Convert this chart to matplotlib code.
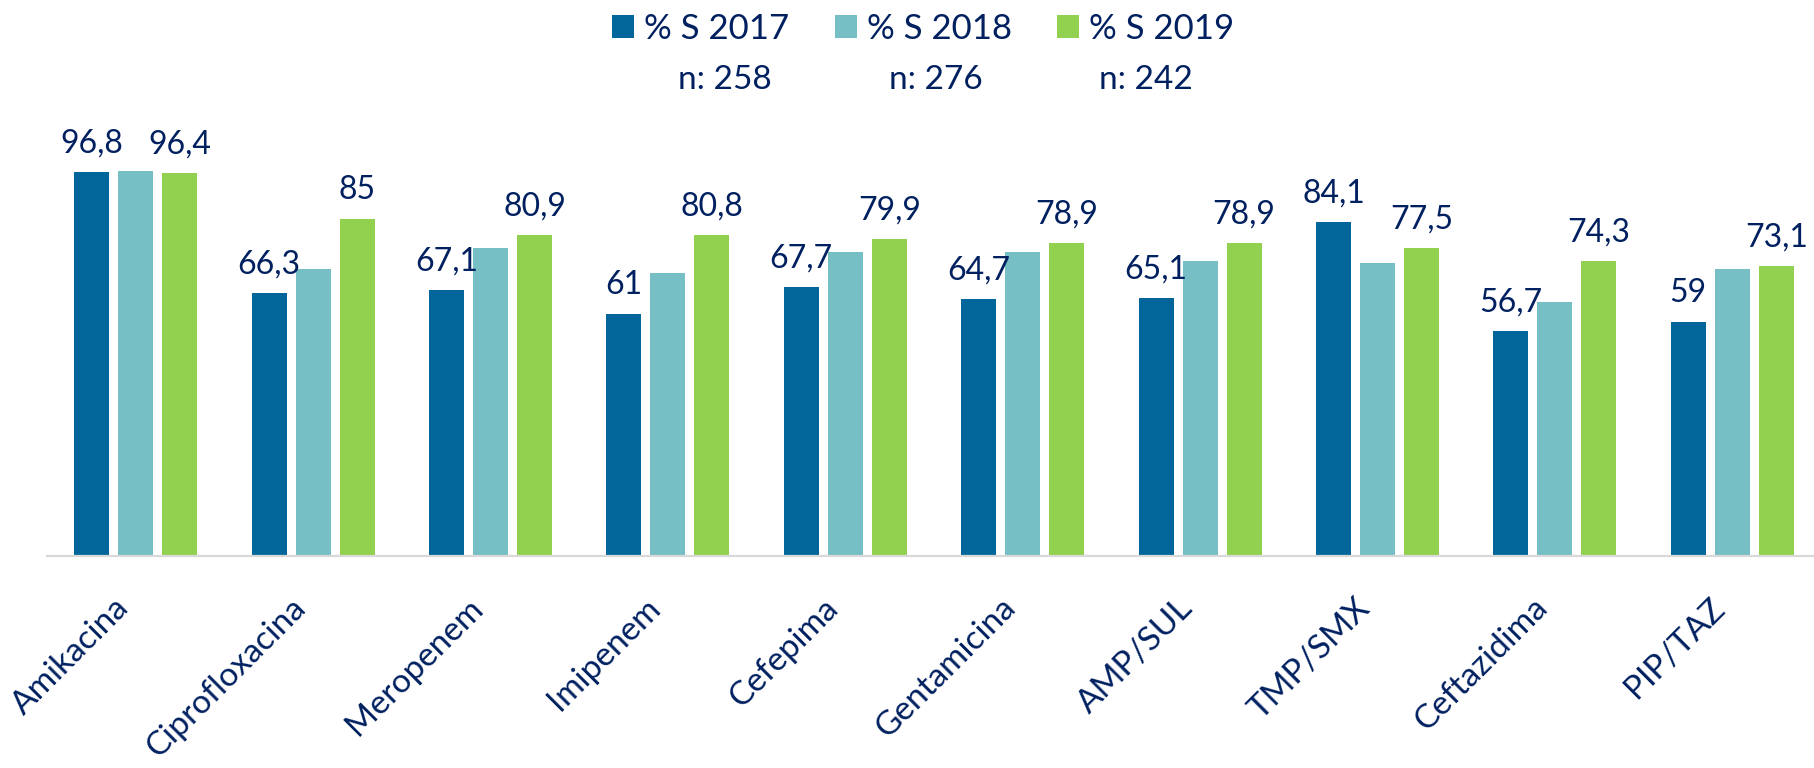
import numpy as np
import matplotlib.pyplot as plt
from matplotlib.transforms import ScaledTranslation

plt.rcParams['font.family'] = ['Lato', 'DejaVu Sans']

categorias = ['Amikacina', 'Ciprofloxacina', 'Meropenem', 'Imipenem', 'Cefepima',
              'Gentamicina', 'AMP/SUL', 'TMP/SMX', 'Ceftazidima', 'PIP/TAZ']
s2017 = [96.8, 66.3, 67.1, 61, 67.7, 64.7, 65.1, 84.1, 56.7, 59]
s2018 = [97.1, 72.3, 77.6, 71.3, 76.7, 76.5, 74.2, 73.8, 63.9, 72.3]
s2019 = [96.4, 85, 80.9, 80.8, 79.9, 78.9, 78.9, 77.5, 74.3, 73.1]
series = ['% S 2017', '% S 2018', '% S 2019']
n_casos = [258, 276, 242]

colores = ['#02669A', '#75BFC5', '#92D050']
texto = '#002060'

fig = plt.figure(figsize=(18.14, 7.68), dpi=100)
ax = fig.add_axes([47 / 1814, 212 / 768, 1774 / 1814, 397 / 768])

x = np.arange(len(categorias))
ancho = 0.197
paso = 0.248

barras = []
for i, (vals, col) in enumerate(zip([s2017, s2018, s2019], colores)):
    b = ax.bar(x + (i - 1) * paso, vals, width=ancho, color=col, label=series[i])
    barras.append(b)

# etiquetas solo para 2017 y 2019
for b, vals in [(barras[0], s2017), (barras[2], s2019)]:
    for rect, v in zip(b, vals):
        ax.annotate(f"{v:g}".replace('.', ','),
                    (rect.get_x() + rect.get_width() / 2, rect.get_height()),
                    xytext=(0, 14), textcoords='offset points',
                    ha='center', va='baseline', fontsize=23, color=texto)

ax.set_xlim(-0.5, len(categorias) - 0.5)
ax.set_ylim(0, 100)
ax.set_yticks([])
for s in ['top', 'right', 'left']:
    ax.spines[s].set_visible(False)
ax.spines['bottom'].set_color('#D9D9D9')
ax.spines['bottom'].set_linewidth(1.6)

ax.set_xticks(x)
ax.set_xticklabels(categorias, rotation=45, ha='right', va='center',
                   rotation_mode='anchor', fontsize=24, color=texto)
ax.tick_params(axis='x', length=0, pad=34)
desplaz = ScaledTranslation(-12 / 100, 0, fig.dpi_scale_trans)
for lab in ax.get_xticklabels():
    lab.set_transform(lab.get_transform() + desplaz)

fig.legend(handles=barras, loc='center', bbox_to_anchor=(0.509, 1 - 29 / 768),
           ncol=3, frameon=False, fontsize=25, labelcolor=texto,
           handlelength=0.63, handleheight=0.63, handletextpad=0.3,
           columnspacing=1.3)

for xc, n in zip([725, 936, 1146], n_casos):
    fig.text(xc / 1814, 1 - 80 / 768, f"n: {n}", ha='center', va='center',
             fontsize=24, color=texto)

fig.savefig('out.png', dpi=100)
